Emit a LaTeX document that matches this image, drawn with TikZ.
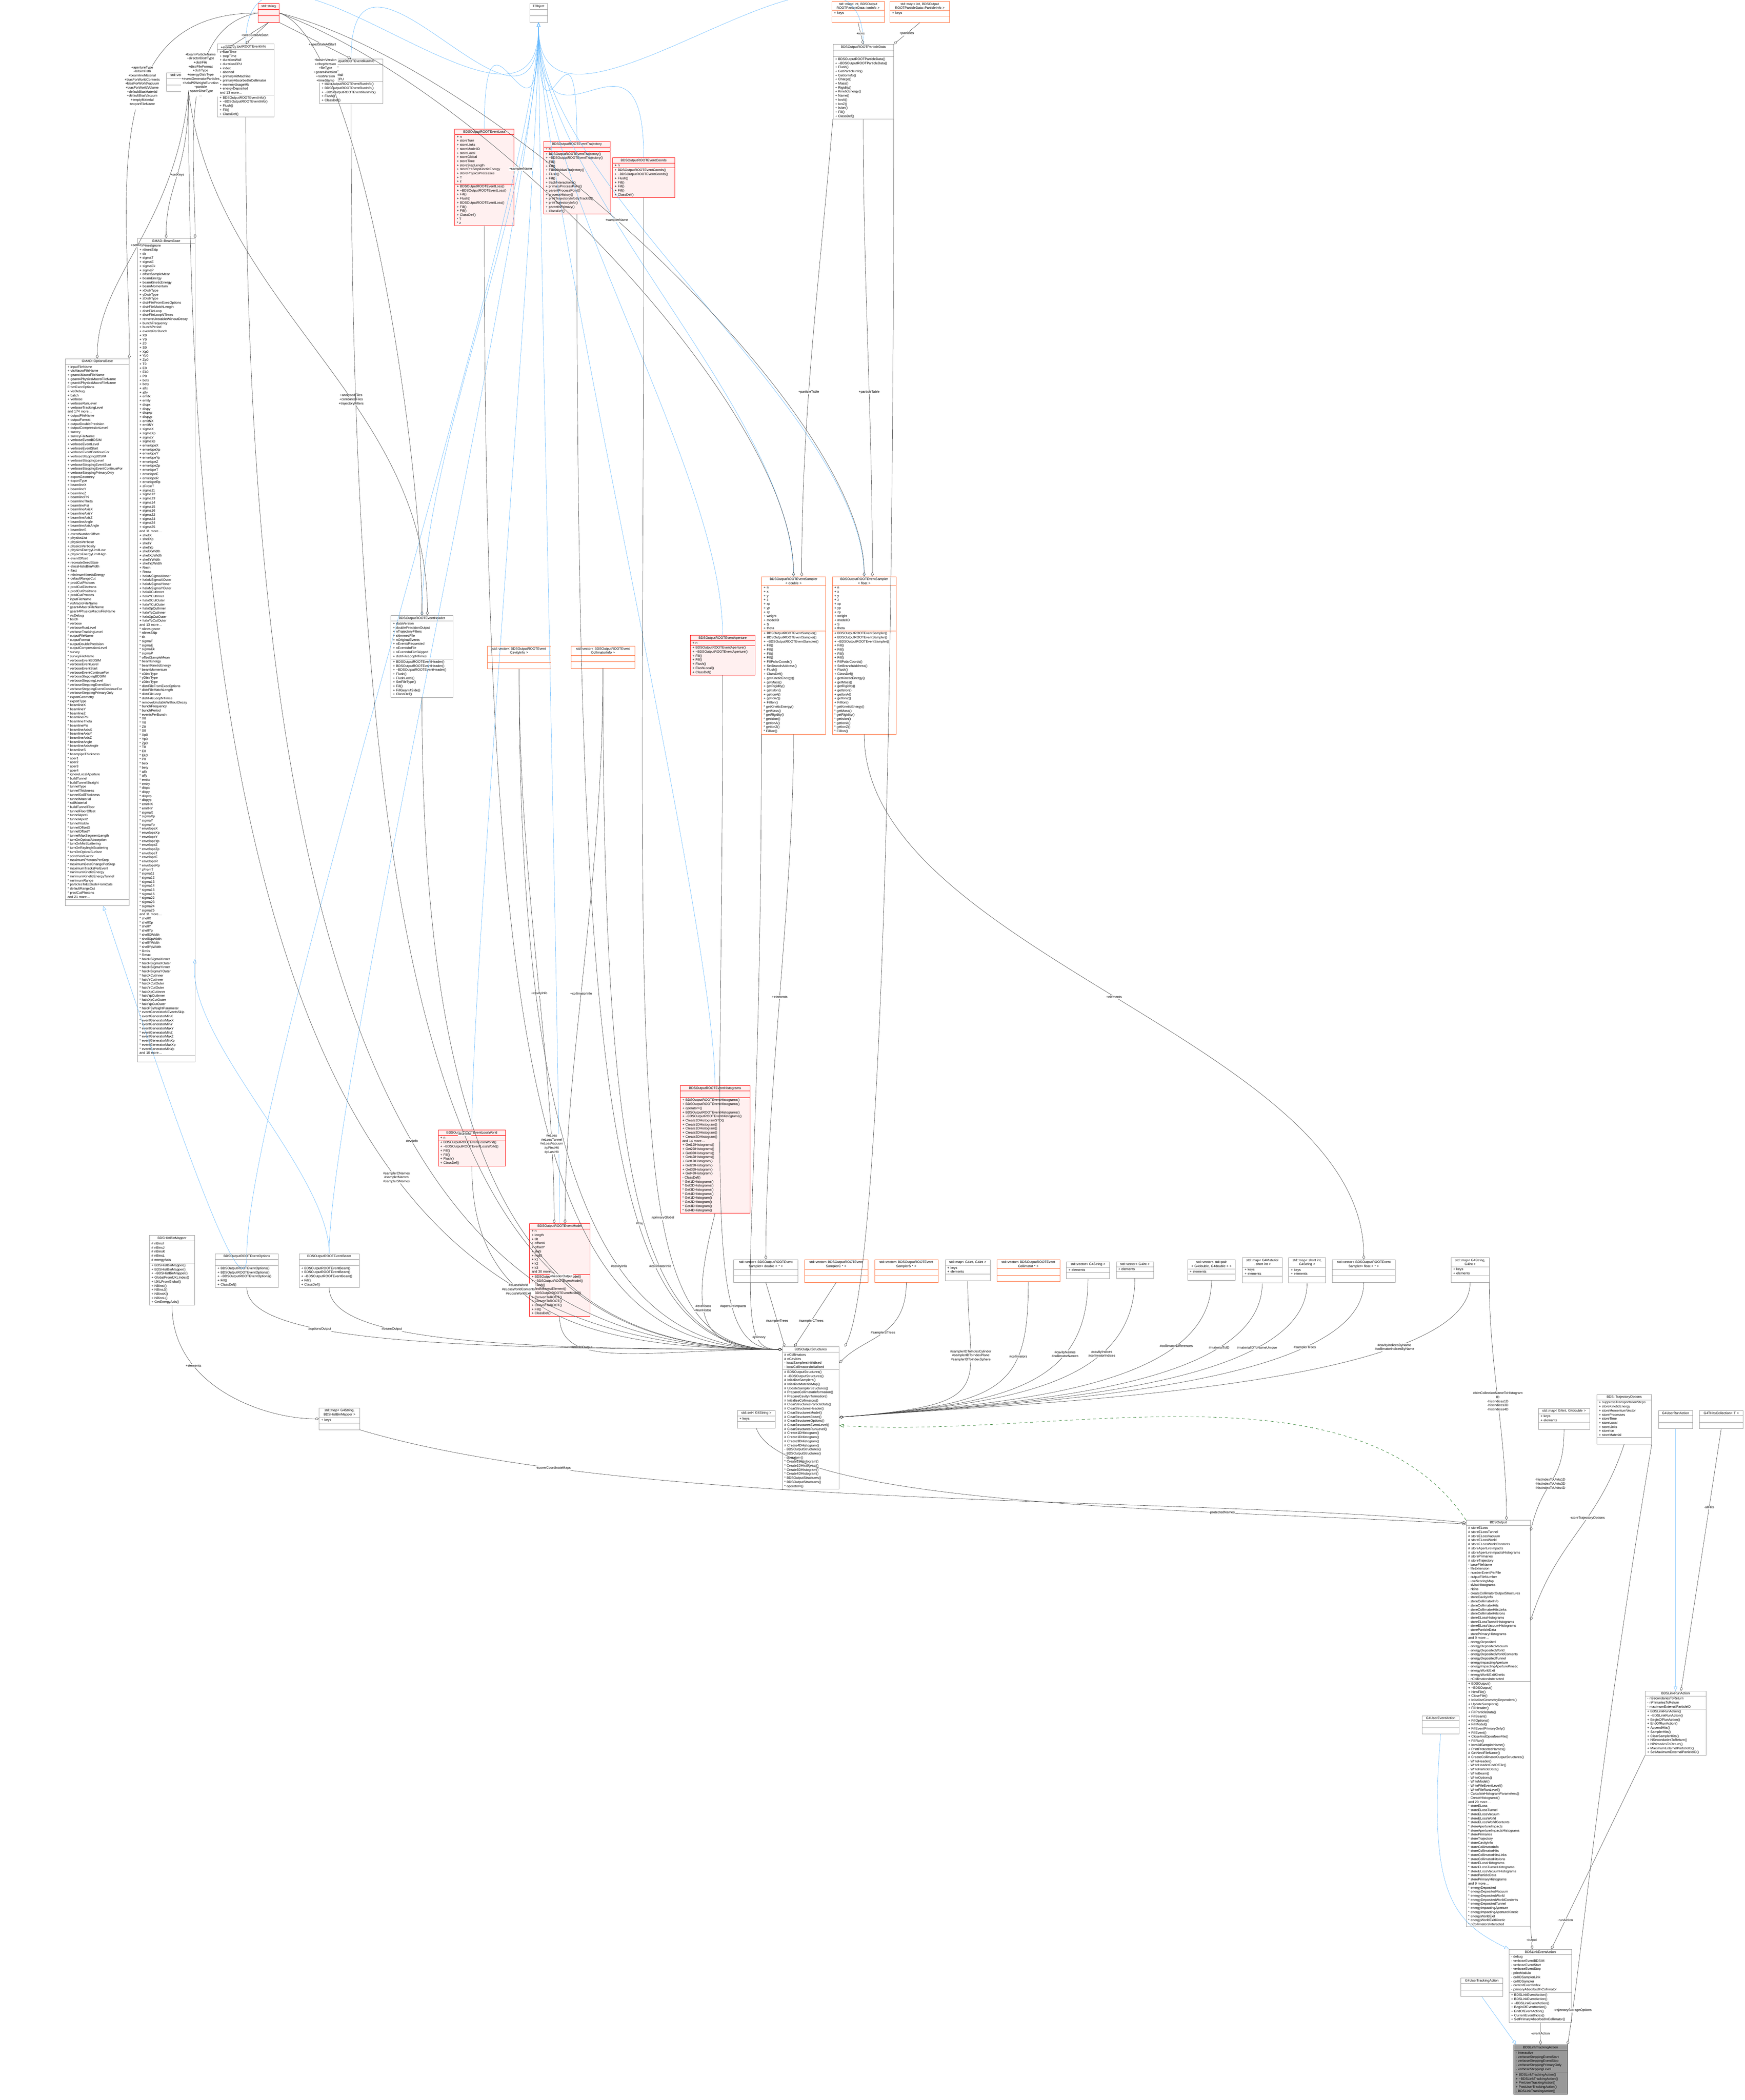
\documentclass[tikz,border=0pt]{standalone}
\usepackage{fontspec}
\setmainfont{Liberation Sans}
\usetikzlibrary{arrows.meta, shapes.multipart}

\definecolor{clsgrey}{HTML}{999999}
\definecolor{clsred}{HTML}{FF0000}
\definecolor{clsredfill}{HTML}{FFF0F0}
\definecolor{clsorange}{HTML}{FF6A33}
\definecolor{edgegrey}{HTML}{404040}
\definecolor{inhblue}{HTML}{63B8FF}
\definecolor{protgreen}{HTML}{006400}
\definecolor{curfill}{HTML}{999999}

% member lists, one entry per line
\newcommand{\mlist}[1]{\foreach \m in {#1}{\m\par}}

\tikzset{
    w/.code = {\pgfmathsetlengthmacro\clsw{#1*0.01cm-0.16cm}\tikzset{text width=\clsw}},
    cls/.style = {rectangle split, rectangle split parts=3, draw=clsgrey, fill=white,
        anchor=north west, inner xsep=0.08cm, inner ysep=0.04cm, align=left,
        line width=0.3pt, font={\fontsize{3.5pt}{4.27pt}\selectfont}},
    redcls/.style = {cls, draw=clsred, fill=clsredfill},
    orcls/.style = {cls, draw=clsorange},
    curcls/.style = {cls, draw=edgegrey, fill=curfill},
    agg/.style = {draw=edgegrey, line width=0.3pt, -{Diamond[open, length=1.6mm, width=1mm]}},
    inh/.style = {draw=inhblue, line width=0.3pt, -{Triangle[open, length=1.6mm, width=1.3mm]}},
    prot/.style = {draw=protgreen, line width=0.3pt, dashed, -{Triangle[open, length=1.6mm, width=1.3mm]}},
    lbl/.style = {font={\fontsize{3.5pt}{4.27pt}\selectfont}, align=center, inner sep=0.5pt, fill=white}
}

\begin{document}
\begin{tikzpicture}
    \useasboundingbox (0,0) rectangle (64.21,-77.30);

    % top row
    \node[redcls, w=78] (str) at (9.49,-0.13) {{\centering std::string\par}\nodepart{two}\strut\nodepart{three}\strut};
    \node[cls, w=65] (tobj) at (19.49,-0.13) {{\centering TObject\par}\nodepart{two}\strut\nodepart{three}\strut};
    \node[orcls, w=193] (mapIon) at (30.61,-0.05) {{\centering std::map< int, BDSOutput\\ROOTParticleData::IonInfo >\par}\nodepart{two}+ keys\nodepart{three}\strut};
    \node[orcls, w=219] (mapPart) at (32.75,-0.05) {{\centering std::map< int, BDSOutput\\ROOTParticleData::ParticleInfo >\par}\nodepart{two}+ keys\nodepart{three}\strut};
    \node[cls, w=223] (partData) at (30.65,-1.63) {{\centering BDSOutputROOTParticleData\par}\nodepart{two}\strut\nodepart{three}
        \mlist{+ BDSOutputROOTParticleData(), + \textasciitilde BDSOutputROOTParticleData(), + Flush(), + GetParticleInfo(), + GetIonInfo(), + Charge(), + Mass(), + Rigidity(), + KineticEnergy(), + Name(), + IonA(), + IonZ(), + IsIon(), + Fill(), + ClassDef()}};
    \node[cls, w=163] (vecStr) at (6.12,-2.67) {{\centering std::vector< std::string >\par}\nodepart{two}\strut\nodepart{three}\strut};
    \node[cls, w=208] (evInfo) at (8.00,-1.61) {{\centering BDSOutputROOTEventInfo\par}\nodepart{two}
        \mlist{+ startTime, + stopTime, + durationWall, + durationCPU, + index, + aborted, + primaryHitMachine, + primaryAbsorbedInCollimator, + memoryUsageMb, + energyDeposited, and 13 more\dots}\nodepart{three}
        \mlist{+ BDSOutputROOTEventInfo(), + \textasciitilde BDSOutputROOTEventInfo(), + Flush(), + Fill(), + ClassDef()}};
    \node[cls, w=233] (runInfo) at (11.75,-2.16) {{\centering BDSOutputROOTEventRunInfo\par}\nodepart{two}
        \mlist{+ startTime, + stopTime, + durationWall, + durationCPU}\nodepart{three}
        \mlist{+ BDSOutputROOTEventRunInfo(), + BDSOutputROOTEventRunInfo(), + \textasciitilde BDSOutputROOTEventRunInfo(), + Flush(), + ClassDef()}};
    \node[redcls, w=218] (evLoss) at (16.73,-4.75) {{\centering BDSOutputROOTEventLoss\par}\nodepart{two}
        \mlist{+ n, + storeTurn, + storeLinks, + storeModelID, + storeLocal, + storeGlobal, + storeTime, + storeStepLength, + storePreStepKineticEnergy, + storePhysicsProcesses, + T, + z}\nodepart{three}
        \mlist{+ BDSOutputROOTEventLoss(), + \textasciitilde BDSOutputROOTEventLoss(), + Fill(), + Flush(), + BDSOutputROOTEventLoss(), + Fill(), + Fill(), + ClassDef(), * T, * z}};
    \node[redcls, w=245] (evTraj) at (20.00,-5.20) {{\centering BDSOutputROOTEventTrajectory\par}\nodepart{two}+ n\nodepart{three}
        \mlist{+ BDSOutputROOTEventTrajectory(), + \textasciitilde BDSOutputROOTEventTrajectory(), + Fill(), + Fill(), + FillIndividualTrajectory(), + Flush(), + Fill(), + trackInteractions(), + primaryProcessPoint(), + parentProcessPoint(), + processHistory(), + printTrajectoryInfoByTrackID(), + printTrajectoryInfo(), + parentIsPrimary(), + ClassDef()}};
    \node[redcls, w=229] (evCoords) at (22.54,-5.80) {{\centering BDSOutputROOTEventCoords\par}\nodepart{two}+ n\nodepart{three}
        \mlist{+ BDSOutputROOTEventCoords(), + \textasciitilde BDSOutputROOTEventCoords(), + Flush(), + Fill(), + Fill(), + Fill(), + ClassDef()}};

    % GMAD bases
    \node[cls, w=212] (beamBase) at (5.05,-8.77) {{\centering GMAD::BeamBase\par}\nodepart{two}
        \mlist{+ nlinesIgnore, + nlinesSkip, + tilt, + sigmaT, + sigmaE, + sigmaEk, + sigmaP, + offsetSampleMean, + beamEnergy, + beamKineticEnergy, + beamMomentum, + xDistrType, + yDistrType, + zDistrType, + distrFileFromExecOptions, + distrFileMatchLength, + distrFileLoop, + distrFileLoopNTimes, + removeUnstableWithoutDecay, + bunchFrequency, + bunchPeriod, + eventsPerBunch, + X0, + Y0, + Z0, + S0, + Xp0, + Yp0, + Zp0, + T0, + E0, + Ek0, + P0, + betx, + bety, + alfx, + alfy, + emitx, + emity, + dispx, + dispy, + dispxp, + dispyp, + emitNX, + emitNY, + sigmaX, + sigmaXp, + sigmaY, + sigmaYp, + envelopeX, + envelopeXp, + envelopeY, + envelopeYp, + envelopeZ, + envelopeZp, + envelopeT, + envelopeE, + envelopeR, + envelopeRp, + zFromT, + sigma11, + sigma12, + sigma13, + sigma14, + sigma15, + sigma16, + sigma22, + sigma23, + sigma24, + sigma25, and 11 more\dots, + shellX, + shellXp, + shellY, + shellYp, + shellXWidth, + shellXpWidth, + shellYWidth, + shellYpWidth, + Rmin, + Rmax, + haloNSigmaXInner, + haloNSigmaXOuter, + haloNSigmaYInner, + haloNSigmaYOuter, + haloXCutInner, + haloYCutInner, + haloXCutOuter, + haloYCutOuter, + haloXpCutInner, + haloYpCutInner, + haloXpCutOuter, + haloYpCutOuter, and 13 more\dots}
        \mlist{* nlinesIgnore, * nlinesSkip, * tilt, * sigmaT, * sigmaE, * sigmaEk, * sigmaP, * offsetSampleMean, * beamEnergy, * beamKineticEnergy, * beamMomentum, * xDistrType, * yDistrType, * zDistrType, * distrFileFromExecOptions, * distrFileMatchLength, * distrFileLoop, * distrFileLoopNTimes, * removeUnstableWithoutDecay, * bunchFrequency, * bunchPeriod, * eventsPerBunch, * X0, * Y0, * Z0, * S0, * Xp0, * Yp0, * Zp0, * T0, * E0, * Ek0, * P0, * betx, * bety, * alfx, * alfy, * emitx, * emity, * dispx, * dispy, * dispxp, * dispyp, * emitNX, * emitNY, * sigmaX, * sigmaXp, * sigmaY, * sigmaYp, * envelopeX, * envelopeXp, * envelopeY, * envelopeYp, * envelopeZ, * envelopeZp, * envelopeT, * envelopeE, * envelopeR, * envelopeRp, * zFromT, * sigma11, * sigma12, * sigma13, * sigma14, * sigma15, * sigma16, * sigma22, * sigma23, * sigma24, * sigma25, and 11 more\dots, * shellX, * shellXp, * shellY, * shellYp, * shellXWidth, * shellXpWidth, * shellYWidth, * shellYpWidth, * Rmin, * Rmax, * haloNSigmaXInner, * haloNSigmaXOuter, * haloNSigmaYInner, * haloNSigmaYOuter, * haloXCutInner, * haloYCutInner, * haloXCutOuter, * haloYCutOuter, * haloXpCutInner, * haloYpCutInner, * haloXpCutOuter, * haloYpCutOuter, * haloPSWeightParameter, * eventGeneratorNEventsSkip, * eventGeneratorMinX, * eventGeneratorMaxX, * eventGeneratorMinY, * eventGeneratorMaxY, * eventGeneratorMinZ, * eventGeneratorMaxZ, * eventGeneratorMinXp, * eventGeneratorMaxXp, * eventGeneratorMinYp, and 10 more\dots}\nodepart{three}\strut};
    \node[cls, w=235] (optBase) at (2.40,-13.20) {{\centering GMAD::OptionsBase\par}\nodepart{two}
        \mlist{+ inputFileName, + visMacroFileName, + geant4MacroFileName, + geant4PhysicsMacroFileName, + geant4PhysicsMacroFileName, FromExecOptions, + visDebug, + batch, + verbose, + verboseRunLevel, + verboseTrackingLevel, and 174 more\dots, + outputFileName, + outputFormat, + outputDoublePrecision, + outputCompressionLevel, + survey, + surveyFileName, + verboseEventBDSIM, + verboseEventLevel, + verboseEventStart, + verboseEventContinueFor, + verboseSteppingBDSIM, + verboseSteppingLevel, + verboseSteppingEventStart, + verboseSteppingEventContinueFor, + verboseSteppingPrimaryOnly, + exportGeometry, + exportType, + beamlineX, + beamlineY, + beamlineZ, + beamlinePhi, + beamlineTheta, + beamlinePsi, + beamlineAxisX, + beamlineAxisY, + beamlineAxisZ, + beamlineAngle, + beamlineAxisAngle, + beamlineS, + eventNumberOffset, + physicsList, + physicsVerbose, + physicsVerbosity, + physicsEnergyLimitLow, + physicsEnergyLimitHigh, + eventOffset, + recreateSeedState, + elossHistoBinWidth, + ffact, + minimumKineticEnergy, + defaultRangeCut, + prodCutPhotons, + prodCutElectrons, + prodCutPositrons, + prodCutProtons}
        \mlist{* inputFileName, * visMacroFileName, * geant4MacroFileName, * geant4PhysicsMacroFileName, * visDebug, * batch, * verbose, * verboseRunLevel, * verboseTrackingLevel, * outputFileName, * outputFormat, * outputDoublePrecision, * outputCompressionLevel, * survey, * surveyFileName, * verboseEventBDSIM, * verboseEventLevel, * verboseEventStart, * verboseEventContinueFor, * verboseSteppingBDSIM, * verboseSteppingLevel, * verboseSteppingEventStart, * verboseSteppingEventContinueFor, * verboseSteppingPrimaryOnly, * exportGeometry, * exportType, * beamlineX, * beamlineY, * beamlineZ, * beamlinePhi, * beamlineTheta, * beamlinePsi, * beamlineAxisX, * beamlineAxisY, * beamlineAxisZ, * beamlineAngle, * beamlineAxisAngle, * beamlineS, * beampipeThickness, * aper1, * aper2, * aper3, * aper4, * ignoreLocalAperture, * buildTunnel, * buildTunnelStraight, * tunnelType, * tunnelThickness, * tunnelSoilThickness, * tunnelMaterial, * soilMaterial, * buildTunnelFloor, * tunnelFloorOffset, * tunnelAper1, * tunnelAper2, * tunnelVisible, * tunnelOffsetX, * tunnelOffsetY, * tunnelMaxSegmentLength, * turnOnOpticalAbsorption, * turnOnMieScattering, * turnOnRayleighScattering, * turnOnOpticalSurface, * scintYieldFactor, * maximumPhotonsPerStep, * maximumBetaChangePerStep, * maximumTracksPerEvent, * minimumKineticEnergy, * minimumKineticEnergyTunnel, * minimumRange, * particlesToExcludeFromCuts, * defaultRangeCut, * prodCutPhotons, and 21 more\dots}\nodepart{three}\strut};

    % middle classes
    \node[cls, w=229] (evHeader) at (14.38,-22.65) {{\centering BDSOutputROOTEventHeader\par}\nodepart{two}
        \mlist{+ dataVersion, + doublePrecisionOutput, + nTrajectoryFilters, + skimmedFile, + nOriginalEvents, + nEventsRequested, + nEventsInFile, + nEventsInFileSkipped, + distrFileLoopNTimes}\nodepart{three}
        \mlist{+ BDSOutputROOTEventHeader(), + BDSOutputROOTEventHeader(), + \textasciitilde BDSOutputROOTEventHeader(), + Flush(), + FlushLocal(), + SetFileType(), + Fill(), + FillGeant4Side(), + ClassDef()}};
    \node[orcls, w=234] (vecCav) at (17.93,-23.78) {{\centering std::vector< BDSOutputROOTEvent\\CavityInfo >\par}\nodepart{two}\strut\nodepart{three}\strut};
    \node[orcls, w=235] (vecColl) at (21.01,-23.78) {{\centering std::vector< BDSOutputROOTEvent\\CollimatorInfo >\par}\nodepart{two}\strut\nodepart{three}\strut};
    \node[redcls, w=238] (evAper) at (25.40,-23.38) {{\centering BDSOutputROOTEventAperture\par}\nodepart{two}+ n\nodepart{three}
        \mlist{+ BDSOutputROOTEventAperture(), + \textasciitilde BDSOutputROOTEventAperture(), + Fill(), + Fill(), + Flush(), + FlushLocal(), + ClassDef()}};
    \node[orcls, w=236] (sampD) at (28.02,-21.22) {{\centering BDSOutputROOTEventSampler\\< double >\par}\nodepart{two}
        \mlist{+ n, + x, + y, + z, + xp, + yp, + zp, + weight, + modelID, + S, + theta}\nodepart{three}
        \mlist{+ BDSOutputROOTEventSampler(), + BDSOutputROOTEventSampler(), + \textasciitilde BDSOutputROOTEventSampler(), + Fill(), + Fill(), + Fill(), + Fill(), + FillPolarCoords(), + SetBranchAddress(), + Flush(), + ClassDef(), + getKineticEnergy(), + getMass(), + getRigidity(), + getIsIon(), + getIonA(), + getIonZ(), + FillIon(), * getKineticEnergy(), * getMass(), * getRigidity(), * getIsIon(), * getIonA(), * getIonZ(), * FillIon()}};
    \node[orcls, w=236] (sampF) at (30.62,-21.22) {{\centering BDSOutputROOTEventSampler\\< float >\par}\nodepart{two}
        \mlist{+ n, + x, + y, + z, + xp, + yp, + zp, + weight, + modelID, + S, + theta}\nodepart{three}
        \mlist{+ BDSOutputROOTEventSampler(), + BDSOutputROOTEventSampler(), + \textasciitilde BDSOutputROOTEventSampler(), + Fill(), + Fill(), + Fill(), + Fill(), + FillPolarCoords(), + SetBranchAddress(), + Flush(), + ClassDef(), + getKineticEnergy(), + getMass(), + getRigidity(), + getIsIon(), + getIonA(), + getIonZ(), + FillIon(), * getKineticEnergy(), * getMass(), * getRigidity(), * getIsIon(), * getIonA(), * getIonZ(), * FillIon()}};
    \node[redcls, w=248] (lossWorld) at (16.12,-41.59) {{\centering BDSOutputROOTEventLossWorld\par}\nodepart{two}+ n\nodepart{three}
        \mlist{+ BDSOutputROOTEventLossWorld(), + \textasciitilde BDSOutputROOTEventLossWorld(), + Fill(), + Fill(), + Flush(), + ClassDef()}};
    \node[redcls, w=256] (evHisto) at (25.03,-39.95) {{\centering BDSOutputROOTEventHistograms\par}\nodepart{two}\strut\nodepart{three}
        \mlist{+ BDSOutputROOTEventHistograms(), + BDSOutputROOTEventHistograms(), + operator=(), + BDSOutputROOTEventHistograms(), + \textasciitilde BDSOutputROOTEventHistograms(), + Create1DHistogramSTD(), + Create1DHistogram(), + Create1DHistogram(), + Create2DHistogram(), + Create2DHistogram(), and 14 more\dots, + Get1DHistograms(), + Get2DHistograms(), + Get3DHistograms(), + Get4DHistograms(), + Get1DHistogram(), + Get2DHistogram(), + Get3DHistogram(), + Get4DHistogram(), - ClassDef(), * Get1DHistograms(), * Get2DHistograms(), * Get3DHistograms(), * Get4DHistograms(), * Get1DHistogram(), * Get2DHistogram(), * Get3DHistogram(), * Get4DHistogram()}};
    \node[redcls, w=222] (evModel) at (19.48,-45.03) {{\centering BDSOutputROOTEventModel\par}\nodepart{two}
        \mlist{+ n, + length, + tilt, + offsetX, + offsetY, + staS, + midS, + k1, + k2, + k3, and 30 more\dots}\nodepart{three}
        \mlist{+ BDSOutputROOTEventModel(), + \textasciitilde BDSOutputROOTEventModel(), + Flush(), + findNearestElement(), + BDSOutputROOTEventModel(), + ConvertToROOT(), + ConvertToROOT(), + ConvertToROOT(), + Fill(), + ClassDef()}};
    \node[cls, w=167] (binMapper) at (5.49,-45.47) {{\centering BDSHistBinMapper\par}\nodepart{two}
        \mlist{\# nBinsI, \# nBinsJ, \# nBinsK, \# nBinsL, \# energyAxis}\nodepart{three}
        \mlist{+ BDSHistBinMapper(), + BDSHistBinMapper(), + \textasciitilde BDSHistBinMapper(), + GlobalFromIJKLIndex(), + IJKLFromGlobal(), + NBinsI(), + NBinsJ(), + NBinsK(), + NBinsL(), + GetEnergyAxis()}};
    \node[cls, w=232] (evOptions) at (7.92,-46.14) {{\centering BDSOutputROOTEventOptions\par}\nodepart{two}\strut\nodepart{three}
        \mlist{+ BDSOutputROOTEventOptions(), + BDSOutputROOTEventOptions(), + \textasciitilde BDSOutputROOTEventOptions(), + Fill(), + ClassDef()}};
    \node[cls, w=222] (evBeam) at (11.00,-46.14) {{\centering BDSOutputROOTEventBeam\par}\nodepart{two}\strut\nodepart{three}
        \mlist{+ BDSOutputROOTEventBeam(), + BDSOutputROOTEventBeam(), + \textasciitilde BDSOutputROOTEventBeam(), + Fill(), + ClassDef()}};

    % containers above the structures
    \node[cls, w=236] (vSampD) at (27.00,-46.36) {{\centering std::vector< BDSOutputROOTEvent\\Sampler< double > * >\par}\nodepart{two}\strut\nodepart{three}\strut};
    \node[orcls, w=234] (vSampC) at (29.60,-46.36) {{\centering std::vector< BDSOutputROOTEvent\\SamplerC * >\par}\nodepart{two}\strut\nodepart{three}\strut};
    \node[orcls, w=234] (vSampS) at (32.18,-46.36) {{\centering std::vector< BDSOutputROOTEvent\\SamplerS * >\par}\nodepart{two}\strut\nodepart{three}\strut};
    \node[cls, w=166] (mapII) at (34.78,-46.36) {{\centering std::map< G4int, G4int >\par}\nodepart{two}+ keys\\+ elements\nodepart{three}\strut};
    \node[orcls, w=232] (vCollP) at (36.68,-46.36) {{\centering std::vector< BDSOutputROOTEvent\\Collimator * >\par}\nodepart{two}\strut\nodepart{three}\strut};
    \node[cls, w=159] (vG4Str) at (39.24,-46.44) {{\centering std::vector< G4String >\par}\nodepart{two}+ elements\nodepart{three}\strut};
    \node[cls, w=138] (vG4Int) at (41.07,-46.44) {{\centering std::vector< G4int >\par}\nodepart{two}+ elements\nodepart{three}\strut};
    \node[cls, w=176] (vPair) at (43.70,-46.36) {{\centering std::vector< std::pair\\< G4double, G4double > >\par}\nodepart{two}+ elements\nodepart{three}\strut};
    \node[cls, w=146] (mapMat) at (45.72,-46.29) {{\centering std::map< G4Material\\ *, short int >\par}\nodepart{two}+ keys\\+ elements\nodepart{three}\strut};
    \node[cls, w=136] (mapShort) at (47.42,-46.29) {{\centering std::map< short int,\\ G4String >\par}\nodepart{two}+ keys\\+ elements\nodepart{three}\strut};
    \node[cls, w=233] (vSampF) at (49.02,-46.36) {{\centering std::vector< BDSOutputROOTEvent\\Sampler< float > * >\par}\nodepart{two}\strut\nodepart{three}\strut};
    \node[cls, w=140] (mapSI) at (53.40,-46.29) {{\centering std::map< G4String,\\ G4int >\par}\nodepart{two}+ keys\\+ elements\nodepart{three}\strut};

    % structures and output
    \node[cls, w=210] (outStruct) at (28.78,-49.57) {{\centering BDSOutputStructures\par}\nodepart{two}
        \mlist{\# nCollimators, \# nCavities, - localSamplersInitialised, - localCollimatorsInitialised}\nodepart{three}
        \mlist{\# BDSOutputStructures(), \# \textasciitilde BDSOutputStructures(), \# InitialiseSamplers(), \# InitialiseMaterialMap(), \# UpdateSamplerStructures(), \# PrepareCollimatorInformation(), \# PrepareCavityInformation(), \# InitialiseCollimators(), \# ClearStructuresParticleData(), \# ClearStructuresHeader(), \# ClearStructuresModel(), \# ClearStructuresBeam(), \# ClearStructuresOptions(), \# ClearStructuresEventLevel(), \# ClearStructuresRunLevel(), \# Create1DHistogram(), \# Create1DHistogram(), \# Create3DHistogram(), \# Create4DHistogram(), - BDSOutputStructures(), - BDSOutputStructures(), - operator=(), * Create1DHistogram(), * Create1DHistogram(), * Create3DHistogram(), * Create4DHistogram(), * BDSOutputStructures(), * BDSOutputStructures(), * operator=()}};
    \node[cls, w=140] (setStr) at (27.13,-51.91) {{\centering std::set< G4String >\par}\nodepart{two}+ keys\nodepart{three}\strut};
    \node[cls, w=150] (mapHist) at (11.74,-51.82) {{\centering std::map< G4String,\\ BDSHistBinMapper >\par}\nodepart{two}+ keys\nodepart{three}\strut};
    \node[cls, w=189] (mapID) at (56.61,-51.83) {{\centering std::map< G4int, G4double >\par}\nodepart{two}+ keys\\+ elements\nodepart{three}\strut};
    \node[cls, w=202] (trajOpt) at (58.76,-51.32) {{\centering BDS::TrajectoryOptions\par}\nodepart{two}
        \mlist{+ suppressTransportationSteps, + storeKineticEnergy, + storeMomentumVector, + storeProcesses, + storeTime, + storeLocal, + storeLinks, + storeIon, + storeMaterial}\nodepart{three}\strut};
    \node[cls, w=126] (runActBase) at (61.03,-51.92) {{\centering G4UserRunAction\par}\nodepart{two}\strut\nodepart{three}\strut};
    \node[cls, w=160] (hitsColl) at (62.54,-51.92) {{\centering G4THitsCollection< T >\par}\nodepart{two}\strut\nodepart{three}\strut};
    \node[cls, w=237] (bdsOutput) at (53.95,-55.95) {{\centering BDSOutput\par}\nodepart{two}
        \mlist{\# storeELoss, \# storeELossTunnel, \# storeELossVacuum, \# storeELossWorld, \# storeELossWorldContents, \# storeApertureImpacts, \# storeApertureImpactsHistograms, \# storePrimaries, \# storeTrajectory, - baseFileName, - fileExtension, - numberEventPerFile, - outputFileNumber, - useScoringMap, - sMaxHistograms, - nbins, - createCollimatorOutputStructures, - storeCavityInfo, - storeCollimatorInfo, - storeCollimatorHits, - storeCollimatorHitsLinks, - storeCollimatorHitsIons, - storeELossHistograms, - storeELossTunnelHistograms, - storeELossVacuumHistograms, - storeParticleData, - storePrimaryHistograms, and 9 more\dots, - energyDeposited, - energyDepositedVacuum, - energyDepositedWorld, - energyDepositedWorldContents, - energyDepositedTunnel, - energyImpactingAperture, - energyImpactingApertureKinetic, - energyWorldExit, - energyWorldExitKinetic, - nCollimatorsInteracted}\nodepart{three}
        \mlist{+ BDSOutput(), + \textasciitilde BDSOutput(), + NewFile(), + CloseFile(), + InitialiseGeometryDependent(), + UpdateSamplers(), + FillHeader(), + FillParticleData(), + FillBeam(), + FillOptions(), + FillModel(), + FillEventPrimaryOnly(), + FillEvent(), + CloseAndOpenNewFile(), + FillRun(), + InvalidSamplerName(), + PrintProtectedNames(), \# GetNextFileName(), \# CreateCollimatorOutputStructures(), - WriteHeader(), - WriteHeaderEndOfFile(), - WriteParticleData(), - WriteBeam(), - WriteOptions(), - WriteModel(), - WriteFileEventLevel(), - WriteFileRunLevel(), - CalculateHistogramParameters(), - CreateHistograms(), and 20 more\dots, * storeELoss, * storeELossTunnel, * storeELossVacuum, * storeELossWorld, * storeELossWorldContents, * storeApertureImpacts, * storeApertureImpactsHistograms, * storePrimaries, * storeTrajectory, * storeCavityInfo, * storeCollimatorInfo, * storeCollimatorHits, * storeCollimatorHitsLinks, * storeCollimatorHitsIons, * storeELossHistograms, * storeELossTunnelHistograms, * storeELossVacuumHistograms, * storeParticleData, * storePrimaryHistograms, and 9 more\dots, * energyDeposited, * energyDepositedVacuum, * energyDepositedWorld, * energyDepositedWorldContents, * energyDepositedTunnel, * energyImpactingAperture, * energyImpactingApertureKinetic, * energyWorldExit, * energyWorldExitKinetic, * nCollimatorsInteracted}};
    \node[cls, w=224] (linkRun) at (60.54,-62.24) {{\centering BDSLinkRunAction\par}\nodepart{two}
        \mlist{- nSecondariesToReturn, - nPrimariesToReturn, - maximumExternalParticleID}\nodepart{three}
        \mlist{+ BDSLinkRunAction(), + \textasciitilde BDSLinkRunAction(), + BeginOfRunAction(), + EndOfRunAction(), + AppendHits(), + SamplerHits(), + ClearSamplerHits(), + NSecondariesToReturn(), + NPrimariesToReturn(), + MaximumExternalParticleID(), + SetMaximumExternalParticleID()}};
    \node[cls, w=137] (evActBase) at (52.33,-63.15) {{\centering G4UserEventAction\par}\nodepart{two}\strut\nodepart{three}\strut};
    \node[cls, w=231] (linkEvent) at (55.53,-71.75) {{\centering BDSLinkEventAction\par}\nodepart{two}
        \mlist{- debug, - verboseEventBDSIM, - verboseEventStart, - verboseEventStop, - printModulo, - collIDSamplerLink, - collIDSampler, - currentEventIndex, - primaryAbsorbedInCollimator}\nodepart{three}
        \mlist{+ BDSLinkEventAction(), + BDSLinkEventAction(), + \textasciitilde BDSLinkEventAction(), + BeginOfEventAction(), + EndOfEventAction(), + CurrentEventIndex(), + SetPrimaryAbsorbedInCollimator()}};
    \node[cls, w=154] (trkActBase) at (53.76,-72.80) {{\centering G4UserTrackingAction\par}\nodepart{two}\strut\nodepart{three}\strut};
    \node[curcls, w=198] (linkTrack) at (55.70,-75.26) {{\centering BDSLinkTrackingAction\par}\nodepart{two}
        \mlist{- interactive, - verboseSteppingEventStart, - verboseSteppingEventStop, - verboseSteppingPrimaryOnly, - verboseSteppingLevel}\nodepart{three}
        \mlist{+ BDSLinkTrackingAction(), + \textasciitilde BDSLinkTrackingAction(), + PreUserTrackingAction(), + PostUserTrackingAction(), - BDSLinkTrackingAction()}};

    % inheritance from TObject
    \foreach \c in {evInfo, runInfo, evLoss, evTraj, evCoords, partData, sampD, sampF, evAper, evHeader, lossWorld, evModel, evHisto, evOptions, evBeam}{
        \draw[inh] (\c.north) .. controls +(0,6) and +(0,-6) .. (tobj.south);
    }
    \draw[inh] (evOptions.north) .. controls +(0,-3) and +(2,-6) .. ([xshift=1.4cm]optBase.south west);
    \draw[inh] (evBeam.north) .. controls +(0,3) and +(-0.3,-3) .. ([yshift=3.8cm]beamBase.south east);

    % std::string members
    \draw[agg] (str.south) -- (vecStr.north) node[lbl, pos=0.5] {+elements};
    \draw[agg] (str.south) -- (evInfo.north) node[lbl, pos=0.6] {+seedStateAtStart};
    \draw[agg] (str.south east) -- (runInfo.north) node[lbl, pos=0.6] {+seedStateAtStart};
    \draw[agg] (str.west) .. controls +(-6,0) and +(0,6) .. (optBase.north east)
        node[lbl, pos=0.4] {+apertureType\\+bdsimPath\\+beamlineMaterial\\+biasForWorldContents\\+biasForWorldVacuum\\+biasForWorldVolume\\+defaultBiasMaterial\\+defaultBiasVacuum\\+emptyMaterial\\+exportFileName\\...};
    \draw[agg] (str.west) .. controls +(-3,-0.5) and +(0,3) .. (beamBase.north east)
        node[lbl, pos=0.4] {+beamParticleName\\+directorDistrType\\+distrFile\\+distrFileFormat\\+distrType\\+energyDistrType\\+eventGeneratorParticles\\+haloPSWeightFunction\\+particle\\+spaceDistrType\\...};
    \draw[agg] (str.east) .. controls +(3,-1) and +(0,6) .. (evHeader.north)
        node[lbl, pos=0.2] {+bdsimVersion\\+clhepVersion\\+fileType\\+geant4Version\\+rootVersion\\+timeStamp};
    \draw[agg] (str.east) .. controls +(8,-3) and +(0,6) .. (sampD.north) node[lbl, pos=0.35] {+samplerName};
    \draw[agg] (str.east) .. controls +(8,-2) and +(0,6) .. (sampF.north) node[lbl, pos=0.45] {+samplerName};

    % std::vector<std::string> members
    \draw[agg] (vecStr.south) .. controls +(0,-3) and +(0,2) .. (beamBase.north) node[lbl, pos=0.5] {+setKeys};
    \draw[agg] (vecStr.south) .. controls +(-0.5,-5) and +(0,3) .. (optBase.north) node[lbl, pos=0.5] {+setKeys};
    \draw[agg] (vecStr.south) .. controls +(1,-8) and +(0,8) .. ([xshift=2mm]evHeader.north) node[lbl, pos=0.6] {+analysedFiles\\+combinedFiles\\+trajectoryFilters};

    % particle data
    \draw[agg] (mapIon.south) -- (partData.north) node[lbl, pos=0.5] {+ions};
    \draw[agg] (mapPart.south) -- (partData.north east) node[lbl, pos=0.5] {+particles};
    \draw[agg] (partData.south west) .. controls +(-0.5,-6) and +(0,6) .. ([xshift=3mm]sampD.north) node[lbl, pos=0.6] {+particleTable};
    \draw[agg] (partData.south) .. controls +(0,-6) and +(0,6) .. ([xshift=3mm]sampF.north) node[lbl, pos=0.6] {+particleTable};

    % members of the event model
    \draw[agg] (vecCav.south) .. controls +(0,-8) and +(0,6) .. ([xshift=-2mm]evModel.north) node[lbl, pos=0.55] {+cavityInfo};
    \draw[agg] (vecColl.south) .. controls +(0,-8) and +(0,6) .. ([xshift=2mm]evModel.north) node[lbl, pos=0.55] {+collimatorInfo};
    \draw[agg] (sampD.south) .. controls +(0,-6) and +(0,6) .. (vSampD.north) node[lbl, pos=0.5] {+elements};
    \draw[agg] (sampF.south) .. controls +(0,-8) and +(0,8) .. (vSampF.north) node[lbl, pos=0.5] {+elements};
    \draw[agg] (binMapper.south) .. controls +(0,-3) and +(-2,0) .. (mapHist.west) node[lbl, pos=0.3] {+elements};

    % members of the output structures, from the left
    \coordinate (sIn) at ([yshift=-0.1cm]outStruct.north west);
    \draw[agg] (evInfo.south) .. controls +(0,-40) and +(-10,0) .. (sIn) node[lbl, pos=0.5] {\#evtInfo};
    \draw[agg] (runInfo.south) .. controls +(0,-40) and +(-10,0) .. (sIn) node[lbl, pos=0.5] {\#runInfo};
    \draw[agg] (vecStr.south) .. controls +(0,-40) and +(-12,0) .. (sIn) node[lbl, pos=0.55] {\#samplerCNames\\\#samplerNames\\\#samplerSNames};
    \draw[agg] (evLoss.south) .. controls +(0,-35) and +(-8,0) .. (sIn) node[lbl, pos=0.5] {\#eLoss\\\#eLossTunnel\\\#eLossVacuum\\\#pFirstHit\\\#pLastHit};
    \draw[agg] (evTraj.south) .. controls +(0,-35) and +(-6,0) .. (sIn) node[lbl, pos=0.6] {\#traj};
    \draw[agg] (evCoords.south) .. controls +(0,-35) and +(-6,0) .. (sIn) node[lbl, pos=0.6] {\#primaryGlobal};
    \draw[agg] (evHeader.south) .. controls +(0,-20) and +(-8,0) .. (sIn) node[lbl, pos=0.6] {\#headerOutput};
    \draw[agg] (vecCav.south) .. controls +(0,-20) and +(-6,0) .. (sIn) node[lbl, pos=0.6] {\#cavityInfo};
    \draw[agg] (vecColl.south) .. controls +(0,-20) and +(-5,0) .. (sIn) node[lbl, pos=0.6] {\#collimatorInfo};
    \draw[agg] (lossWorld.south) .. controls +(0,-5) and +(-8,0) .. (sIn) node[lbl, pos=0.4] {\#eLossWorld\\\#eLossWorldContents\\\#eLossWorldExit};
    \draw[agg] (evModel.south) .. controls +(0,-2) and +(-5,0) .. (sIn) node[lbl, pos=0.3] {\#modelOutput};
    \draw[agg] (evAper.south) .. controls +(0,-20) and +(-3,0) .. (sIn) node[lbl, pos=0.7] {\#apertureImpacts};
    \draw[agg] (evHisto.south) .. controls +(-1,-4) and +(-3,0) .. (sIn) node[lbl, pos=0.4] {\#evtHistos\\\#runHistos};
    \draw[agg] (evOptions.south) .. controls +(0,-2) and +(-12,0) .. (sIn) node[lbl, pos=0.35] {\#optionsOutput};
    \draw[agg] (evBeam.south) .. controls +(0,-2) and +(-10,0) .. (sIn) node[lbl, pos=0.35] {\#beamOutput};
    \draw[agg] (sampD.south west) .. controls +(0,-20) and +(-2,0) .. (sIn) node[lbl, pos=0.8] {\#primary};
    \draw[agg] (partData.south east) .. controls +(0,-30) and +(1,2) .. ([xshift=2mm]outStruct.north east);

    % members of the output structures, from above and from the right
    \draw[agg] (vSampD.south) -- ([xshift=1mm]outStruct.north west) node[lbl, pos=0.6] {\#samplerTrees};
    \draw[agg] (vSampC.south) -- ([xshift=-6mm]outStruct.north) node[lbl, pos=0.6] {\#samplerCTrees};
    \coordinate (sRight) at ([yshift=-2.6cm]outStruct.north east);
    \draw[agg] (vSampS.south) .. controls +(0,-2) and +(1,1) .. ([yshift=-0.6cm]outStruct.north east) node[lbl, pos=0.5] {\#samplerSTrees};
    \foreach \c/\t/\p in {mapII/{\#samplerIDToIndexCylinder\\\#samplerIDToIndexPlane\\\#samplerIDToIndexSphere}/0.3,
            vCollP/{\#collimators}/0.3, vG4Str/{\#cavityNames\\\#collimatorNames}/0.3,
            vG4Int/{\#cavityIndices\\\#collimatorIndices}/0.3, vPair/{\#collimatorDifferences}/0.25,
            mapMat/{\#materialToID}/0.25, mapShort/{\#materialIDToNameUnique}/0.25,
            vSampF/{\#samplerTrees}/0.25, mapSI/{\#cavityIndicesByName\\\#collimatorIndicesByName}/0.25}{
        \draw[agg] (\c.south) .. controls +(0,-4) and +(6,0.5) .. (sRight) node[lbl, pos=\p] {\t};
    }

    % output class and its members
    \draw[prot] (bdsOutput.north west) .. controls +(-4,6) and +(8,-0.5) .. ([yshift=-2.9cm]outStruct.north east);
    \draw[agg] (setStr.south) .. controls +(1,-3) and +(-8,0.5) .. ([yshift=-0.15cm]bdsOutput.north west) node[lbl, pos=0.7] {-protectedNames};
    \draw[agg] (mapHist.south east) .. controls +(10,-3) and +(-10,1) .. ([yshift=-0.1cm]bdsOutput.north west) node[lbl, pos=0.2] {-scorerCoordinateMaps};
    \draw[agg] (mapSI.south east) .. controls +(0,-3) and +(0,3) .. ([xshift=3mm]bdsOutput.north) node[lbl, pos=0.5] {\#blmCollectionNameToHistogram\\ID\\-histIndices1D\\-histIndices3D\\-histIndices4D};
    \draw[agg] (mapID.south) .. controls +(0,-2) and +(0.5,2) .. ([yshift=-0.4cm]bdsOutput.north east) node[lbl, pos=0.55] {-histIndexToUnits1D\\-histIndexToUnits3D\\-histIndexToUnits4D};
    \draw[agg] (trajOpt.south) .. controls +(-1,-3) and +(1,3) .. ([yshift=-3.7cm]bdsOutput.north east) node[lbl, pos=0.4] {-storeTrajectoryOptions};
    \draw[inh] (runActBase.south) -- (linkRun.north);
    \draw[agg] (hitsColl.south) -- ([xshift=2mm]linkRun.north) node[lbl, pos=0.3] {-allHits};
    \draw[agg] (bdsOutput.south east) -- ([xshift=-3mm]linkEvent.north) node[lbl, pos=0.6] {-output};
    \draw[agg] (linkRun.south west) -- ([xshift=4mm]linkEvent.north) node[lbl, pos=0.85] {-runAction};
    \draw[inh] (evActBase.south) .. controls +(-0.5,-6) and +(-2,1) .. (linkEvent.north west);
    \draw[agg] (linkEvent.south) -- (linkTrack.north) node[lbl, pos=0.5] {-eventAction};
    \draw[inh] (trkActBase.south) -- ([xshift=1mm]linkTrack.north west);
    \draw[agg] (trajOpt.south east) .. controls +(-2,-12) and +(0.5,3) .. (linkTrack.north east) node[lbl, pos=0.88] {-trajectoryStorageOptions};
\end{tikzpicture}
\end{document}
